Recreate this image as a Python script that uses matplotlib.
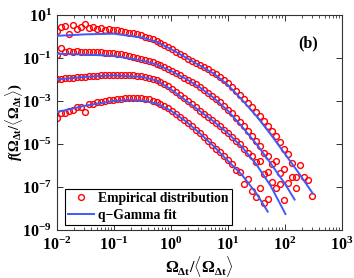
import matplotlib

matplotlib.use("Agg")
import matplotlib.pyplot as plt
import numpy as np
from matplotlib.ticker import LogLocator, NullLocator, NullFormatter

# log10 of the empirical bin centres (shared by all four curves)
LOGX = [-2.00, -1.93, -1.86, -1.79, -1.72, -1.65, -1.58, -1.51, -1.44, -1.37,
        -1.30, -1.23, -1.16, -1.09, -1.02, -0.95, -0.88, -0.81, -0.74, -0.67,
        -0.60, -0.53, -0.46, -0.39, -0.32, -0.25, -0.18, -0.11, -0.04, 0.03,
        0.10, 0.17, 0.24, 0.31, 0.38, 0.45, 0.52, 0.59, 0.66, 0.73,
        0.80, 0.87, 0.94, 1.01, 1.08, 1.15, 1.22, 1.29, 1.36, 1.43,
        1.50, 1.57, 1.64, 1.71, 1.78, 1.85, 1.92, 1.99, 2.06, 2.13,
        2.20, 2.27, 2.34, 2.41, 2.48]

# log10 f, empirical, four time scales (shifted vertically)
EMP_A = [0.26, 0.46, 0.50, 0.10, 0.55, 0.35, 0.45, 0.58, 0.40, 0.45,
         0.33, 0.38, 0.32, 0.36, 0.30, 0.28, 0.25, 0.22, 0.17, 0.14,
         0.10, 0.05, 0.00, -0.06, -0.13, -0.20, -0.30, -0.40, -0.50, -0.60,
         -0.72, -0.83, -0.93, -1.03, -1.13, -1.23, -1.33, -1.43, -1.53, -1.63,
         -1.75, -1.88, -2.03, -2.18, -2.35, -2.53, -2.72, -2.90, -3.10, -3.28,
         -3.50, -3.72, -3.95, -4.15, -4.40, -4.65, -4.90, -5.25, -5.45, -5.90,
         -6.55, -6.00, -6.55, -6.70, -7.40]
EMP_B = [-0.85, -0.52, -0.72, -0.68, -0.70, -0.67, -0.72, -0.70, -0.71, -0.73,
         -0.72, -0.74, -0.76, -0.77, -0.79, -0.81, -0.83, -0.86, -0.90, -0.94,
         -0.98, -1.03, -1.08, -1.13, -1.19, -1.26, -1.34, -1.42, -1.51, -1.60,
         -1.70, -1.80, -1.91, -2.01, -2.12, -2.23, -2.35, -2.48, -2.62, -2.76,
         -2.91, -3.06, -3.22, -3.40, -3.58, -3.78, -3.98, -4.18, -4.40, -4.62,
         -4.85, -5.10, -5.40, -5.55, -5.95, -5.80, -6.35, -6.15, -6.80, -6.55,
         -7.05]
EMP_C = [-2.00, -1.96, -1.94, -1.92, -1.92, -1.90, -1.88, -1.87, -1.85, -1.84,
         -1.82, -1.80, -1.79, -1.78, -1.77, -1.77, -1.77, -1.78, -1.79, -1.80,
         -1.82, -1.84, -1.87, -1.91, -1.96, -2.02, -2.10, -2.20, -2.32, -2.46,
         -2.60, -2.74, -2.88, -3.02, -3.16, -3.30, -3.45, -3.59, -3.73, -3.88,
         -4.02, -4.17, -4.33, -4.49, -4.66, -4.84, -5.02, -5.22, -5.40, -5.55,
         -5.85, -5.80, -6.40, -6.30, -6.75, -7.05, -6.85, -7.60]
EMP_D = [-3.80, -3.55, -3.56, -3.48, -3.42, -3.30, -3.28, -3.50, -3.15, -3.14,
         -3.06, -3.04, -3.00, -2.97, -2.95, -2.93, -2.90, -2.88, -2.87, -2.86,
         -2.87, -2.88, -2.90, -2.93, -2.98, -3.04, -3.12, -3.22, -3.33, -3.46,
         -3.60, -3.74, -3.88, -4.02, -4.17, -4.33, -4.50, -4.68, -4.86, -5.05,
         -5.22, -5.38, -5.55, -5.75, -5.95, -6.20, -6.30, -6.85, -6.65, -7.20,
         -7.45, -7.05, -7.75, -7.55]

# q-Gamma fits (log10 x, log10 f)
FIT_A_X = [-2.0, -1.5, -1.0, -0.5, -0.25, 0.0, 0.25, 0.5, 0.75, 1.0, 1.25, 1.5, 1.75, 2.0, 2.25, 2.49]
FIT_A_Y = [0.03, 0.10, 0.13, -0.05, -0.25, -0.58, -0.96, -1.34, -1.72, -2.25, -2.95, -3.70, -4.55, -5.46, -6.38, -7.31]
FIT_B_X = [-2.0, -1.5, -1.0, -0.5, -0.25, 0.0, 0.25, 0.5, 0.75, 1.0, 1.25, 1.5, 1.75, 2.0, 2.17]
FIT_B_Y = [-0.80, -0.84, -0.90, -1.12, -1.30, -1.60, -1.95, -2.35, -2.85, -3.45, -4.20, -5.00, -5.90, -6.85, -7.59]
FIT_C_X = [-2.0, -1.5, -1.0, -0.5, -0.25, 0.0, 0.25, 0.5, 0.75, 1.0, 1.25, 1.5, 1.75, 2.01]
FIT_C_Y = [-2.00, -1.88, -1.81, -1.88, -2.05, -2.45, -2.95, -3.45, -3.95, -4.50, -5.15, -5.95, -6.95, -8.26]
FIT_D_X = [-2.0, -1.5, -1.0, -0.75, -0.5, -0.25, 0.0, 0.25, 0.5, 0.75, 1.0, 1.25, 1.5, 1.70]
FIT_D_Y = [-3.52, -3.22, -3.00, -2.95, -2.98, -3.12, -3.45, -3.92, -4.48, -5.10, -5.78, -6.45, -7.30, -8.15]

RED = "#ff0000"
BLUE = "#3a5cff"

plt.rcParams.update({
    "font.family": "Liberation Serif",
    "font.weight": "bold",
    "font.size": 11.5,
    "mathtext.fontset": "custom",
    "mathtext.rm": "Liberation Serif:bold",
    "mathtext.it": "Liberation Serif:italic:bold",
    "mathtext.bf": "Liberation Serif:bold",
    "mathtext.default": "rm",
    "axes.linewidth": 0.8,
    "axes.edgecolor": "#333333",
})

fig = plt.figure(figsize=(3.54, 2.78), dpi=100)
ax = fig.add_axes([0.160, 0.173, 0.806, 0.773])

emp = [EMP_A, EMP_B, EMP_C, EMP_D]
fits = [(FIT_A_X, FIT_A_Y), (FIT_B_X, FIT_B_Y), (FIT_C_X, FIT_C_Y), (FIT_D_X, FIT_D_Y)]

for i, ys in enumerate(emp):
    xs = 10 ** np.array(LOGX[:len(ys)])
    ax.plot(xs, 10 ** np.array(ys), "o", ms=4.2, mfc="none", mec=RED, mew=1.0,
            label="Empirical distribution" if i == 0 else None, zorder=2)
for i, (fx, fy) in enumerate(fits):
    ax.plot(10 ** np.array(fx), 10 ** np.array(fy), color=BLUE, lw=1.4,
            label="q\u2212Gamma fit" if i == 0 else None, zorder=3)

ax.set_xscale("log")
ax.set_yscale("log")
ax.set_xlim(1e-2, 1e3)
ax.set_ylim(1e-9, 1e1)
ax.set_yticks([10.0 ** k for k in range(1, -10, -2)])
ax.yaxis.set_minor_locator(NullLocator())
ax.xaxis.set_major_locator(LogLocator(base=10, numticks=10))
ax.xaxis.set_minor_locator(LogLocator(base=10, subs=np.arange(2, 10), numticks=10))
ax.xaxis.set_minor_formatter(NullFormatter())
ax.tick_params(which="both", direction="in", top=True, right=True, colors="#333333",
               labelcolor="black", labelsize=11.5)
ax.tick_params(which="major", length=4, width=0.7)
ax.tick_params(which="minor", length=2, width=0.6)
ax.tick_params(axis="x", which="major", pad=5)
for lab in ax.get_yticklabels():
    lab.set_verticalalignment("center_baseline")

ax.set_xlabel(r"$\Omega_{\Delta t}/\langle\Omega_{\Delta t}\rangle$", labelpad=0)
ax.set_ylabel(r"$\mathit{f}(\Omega_{\Delta t}/\langle\Omega_{\Delta t}\rangle)$", fontsize=10.5)
ax.yaxis.set_label_coords(-0.112, 0.5)
ax.text(0.88, 0.87, "(b)", transform=ax.transAxes, ha="center", va="center",
        fontsize=11.5, weight="bold")

leg = ax.legend(loc="lower left", bbox_to_anchor=(0.02, 0.01), numpoints=1,
                fancybox=False, edgecolor="black", framealpha=1,
                handlelength=1.9, handletextpad=0.3, borderpad=0.25,
                labelspacing=0.25, borderaxespad=0.2, fontsize=9.8)
leg.get_frame().set_linewidth(0.8)

fig.savefig("out.png", dpi=100)
